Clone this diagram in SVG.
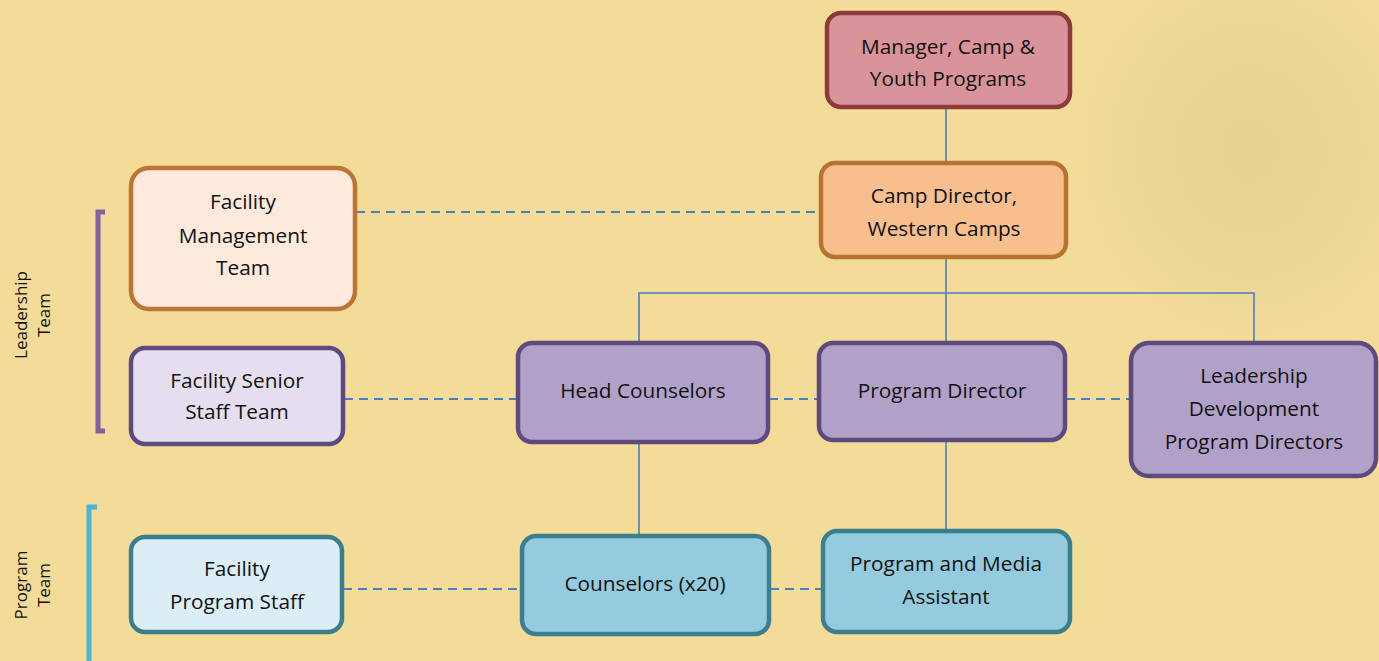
<svg xmlns="http://www.w3.org/2000/svg" width="1379" height="661" viewBox="0 0 1379 661">
<defs>
<radialGradient id="spot" cx="0.5" cy="0.5" r="0.5">
<stop offset="0" stop-color="#d8c48c" stop-opacity="0.45"/>
<stop offset="0.6" stop-color="#d8c48c" stop-opacity="0.25"/>
<stop offset="1" stop-color="#d8c48c" stop-opacity="0"/>
</radialGradient>
<style>
text{font-family:"Open Sans","Noto Sans","DejaVu Sans",sans-serif;font-size:20.8px;fill:#111;text-anchor:middle}
.side{font-size:17px}
.box{stroke-width:4.5}
.red{fill:#d9939a;stroke:#8c3a3c}
.orange{fill:#f8bf8e;stroke:#b87232}
.peach{fill:#fdeadd;stroke:#bd7535}
.lav{fill:#e5deee;stroke:#5e4a7e}
.purple{fill:#b1a1c9;stroke:#5e4a7e}
.pale{fill:#dbeef5;stroke:#3b7e8e}
.cyan{fill:#94cbde;stroke:#3b7e8e}
.solid{stroke:#4a7fc1;stroke-width:1.6;fill:none}
.dash{stroke:#4a7fc1;stroke-width:2;fill:none;stroke-dasharray:9 6}
</style>
</defs>
<rect width="1379" height="661" fill="#f3dc98"/>
<ellipse cx="1250" cy="150" rx="170" ry="190" fill="url(#spot)"/>

<g id="connectors">
<line class="solid" x1="946" y1="108" x2="946" y2="162"/>
<line class="solid" x1="946" y1="258" x2="946" y2="342"/>
<polyline class="solid" points="639,342 639,293 1254,293 1254,342"/>
<line class="solid" x1="639" y1="443" x2="639" y2="535"/>
<line class="solid" x1="946" y1="441" x2="946" y2="530"/>
<line class="dash" x1="356" y1="212" x2="820" y2="212"/>
<line class="dash" x1="344" y1="399" x2="517" y2="399"/>
<line class="dash" x1="769" y1="399" x2="818" y2="399"/>
<line class="dash" x1="1066" y1="399" x2="1130" y2="399"/>
<line class="dash" x1="343" y1="589" x2="521" y2="589"/>
<line class="dash" x1="770" y1="589" x2="822" y2="589"/>
</g>

<g id="leadership-bracket">
<polyline points="105,212 98,212 98,431 105,431" fill="none" stroke="#7f62a0" stroke-width="5"/>
<text class="side" transform="translate(27,315) rotate(-90)">Leadership</text>
<text class="side" transform="translate(50,315) rotate(-90)">Team</text>
</g>
<g id="program-bracket">
<polyline points="97,507 89,507 89,665" fill="none" stroke="#4ab4d2" stroke-width="5"/>
<text class="side" transform="translate(27,585) rotate(-90)">Program</text>
<text class="side" transform="translate(50,585) rotate(-90)">Team</text>
</g>

<g id="manager">
<rect class="box red" x="827" y="13" width="243" height="94" rx="14"/>
<text x="948" y="54">Manager, Camp &amp;</text>
<text x="948" y="86">Youth Programs</text>
</g>
<g id="camp-director">
<rect class="box orange" x="821" y="163" width="245" height="94" rx="14"/>
<text x="944" y="203">Camp Director,</text>
<text x="944" y="236">Western Camps</text>
</g>
<g id="facility-management">
<rect class="box peach" x="131" y="168" width="224" height="141" rx="18"/>
<text x="243" y="209">Facility</text>
<text x="243" y="243">Management</text>
<text x="243" y="275">Team</text>
</g>
<g id="facility-senior">
<rect class="box lav" x="131" y="348" width="212" height="96" rx="14"/>
<text x="237" y="388">Facility Senior</text>
<text x="237" y="419">Staff Team</text>
</g>
<g id="head-counselors">
<rect class="box purple" x="518" y="343" width="250" height="99" rx="14"/>
<text x="643" y="398">Head Counselors</text>
</g>
<g id="program-director">
<rect class="box purple" x="819" y="343" width="246" height="97" rx="14"/>
<text x="942" y="398">Program Director</text>
</g>
<g id="leadership-development">
<rect class="box purple" x="1131" y="343" width="245" height="133" rx="18"/>
<text x="1254" y="383">Leadership</text>
<text x="1254" y="416">Development</text>
<text x="1254" y="449">Program Directors</text>
</g>
<g id="facility-program-staff">
<rect class="box pale" x="131" y="537" width="211" height="95" rx="14"/>
<text x="237" y="576">Facility</text>
<text x="237" y="609">Program Staff</text>
</g>
<g id="counselors">
<rect class="box cyan" x="522" y="536" width="247" height="98" rx="14"/>
<text x="645" y="591">Counselors (x20)</text>
</g>
<g id="program-media">
<rect class="box cyan" x="823" y="531" width="247" height="101" rx="14"/>
<text x="946" y="571">Program and Media</text>
<text x="946" y="604">Assistant</text>
</g>
</svg>
